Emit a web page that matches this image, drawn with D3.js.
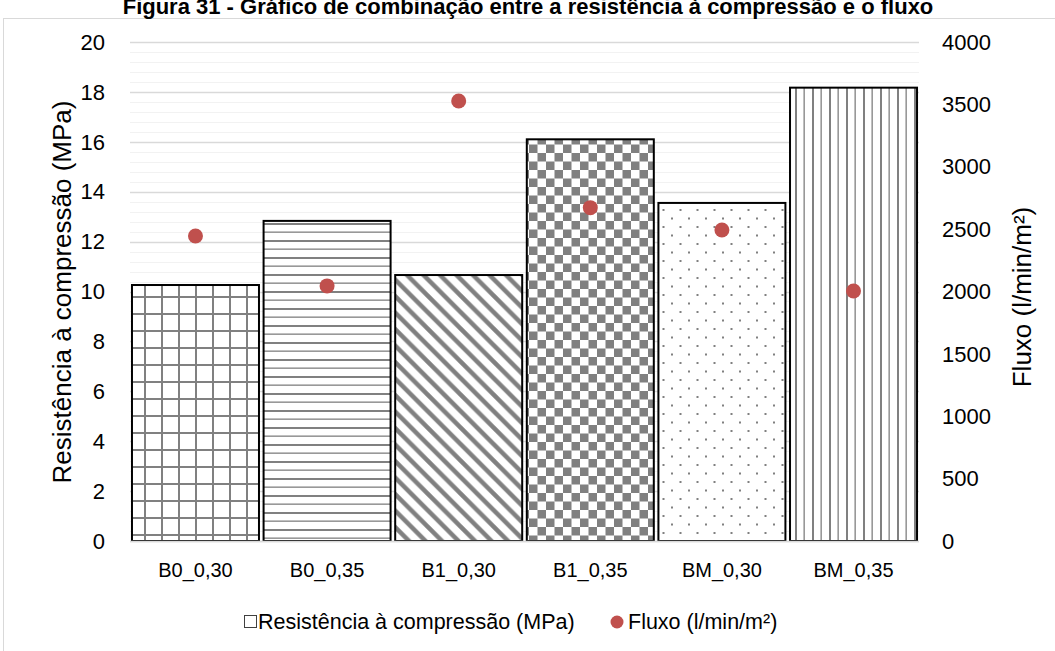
<!DOCTYPE html>
<html>
<head>
<meta charset="utf-8">
<script src="https://cdn.jsdelivr.net/npm/d3@7"></script>
<style>
  body { margin: 0; background: #fff; }
  svg { display: block; font-family: "Liberation Sans", Arial, sans-serif; }
</style>
</head>
<body>
<div id="chart"></div>
<script>
// data
var categories = ['B0_0,30', 'B0_0,35', 'B1_0,30', 'B1_0,35', 'BM_0,30', 'BM_0,35'];
var resistencia = [10.26, 12.83, 10.66, 16.1, 13.55, 18.17];
var fluxo = [2445, 2045, 3527, 2672, 2493, 2004];
var leftTicks = [0, 2, 4, 6, 8, 10, 12, 14, 16, 18, 20];
var rightTicks = [0, 500, 1000, 1500, 2000, 2500, 3000, 3500, 4000];
var patternIds = ['pGrid', 'pHoriz', 'pDiag', 'pCheck', 'pDots', 'pVert'];

var width = 1055, height = 651;
var margin = {left: 130, right: 136, top: 42, bottom: 110};
var gray = '#808080';

var svg = d3.select('#chart').append('svg')
    .attr('width', width)
    .attr('height', height);

var defs = svg.append('defs');

// grid pattern
var p = defs.append('pattern').attr('id', 'pGrid').attr('patternUnits', 'userSpaceOnUse')
    .attr('width', 17).attr('height', 17).attr('x', 130).attr('y', 0);
p.append('rect').attr('width', 17).attr('height', 17).attr('fill', '#fff');
p.append('rect').attr('x', 14).attr('width', 2).attr('height', 17).attr('fill', gray);
p.append('rect').attr('y', 7).attr('width', 17).attr('height', 2).attr('fill', gray);

// horizontal lines
p = defs.append('pattern').attr('id', 'pHoriz').attr('patternUnits', 'userSpaceOnUse')
    .attr('width', 17).attr('height', 17);
p.append('rect').attr('width', 17).attr('height', 17).attr('fill', '#fff');
p.append('rect').attr('y', 2).attr('width', 17).attr('height', 2).attr('fill', gray);
p.append('rect').attr('y', 10.5).attr('width', 17).attr('height', 1.3).attr('fill', gray);

// wide downward diagonal
p = defs.append('pattern').attr('id', 'pDiag').attr('patternUnits', 'userSpaceOnUse')
    .attr('width', 16.5).attr('height', 16.5);
p.append('rect').attr('width', 16.5).attr('height', 16.5).attr('fill', '#fff');
p.append('path').attr('d', 'M-4,-4L20.5,20.5M-4,12.5L4,20.5M12.5,-4L20.5,4')
    .attr('stroke', gray).attr('stroke-width', 4.5);

// checkerboard
p = defs.append('pattern').attr('id', 'pCheck').attr('patternUnits', 'userSpaceOnUse')
    .attr('width', 17).attr('height', 17).attr('x', 529).attr('y', 0);
p.append('rect').attr('width', 17).attr('height', 17).attr('fill', '#fff');
p.append('rect').attr('x', 8.5).attr('width', 8.5).attr('height', 8.5).attr('fill', gray);
p.append('rect').attr('y', 8.5).attr('width', 8.5).attr('height', 8.5).attr('fill', gray);

// dots
p = defs.append('pattern').attr('id', 'pDots').attr('patternUnits', 'userSpaceOnUse')
    .attr('width', 17).attr('height', 17).attr('x', 672).attr('y', 0);
p.append('rect').attr('width', 17).attr('height', 17).attr('fill', '#fff');
p.append('rect').attr('x', 7.5).attr('y', 5).attr('width', 2).attr('height', 2).attr('fill', gray);
p.append('rect').attr('x', 16).attr('y', 13.5).attr('width', 2).attr('height', 2).attr('fill', gray);
p.append('rect').attr('x', -1).attr('y', 13.5).attr('width', 2).attr('height', 2).attr('fill', gray);

// vertical lines
p = defs.append('pattern').attr('id', 'pVert').attr('patternUnits', 'userSpaceOnUse')
    .attr('width', 17).attr('height', 17).attr('x', 792).attr('y', 0);
p.append('rect').attr('width', 17).attr('height', 17).attr('fill', '#fff');
p.append('rect').attr('x', 3).attr('width', 2).attr('height', 17).attr('fill', gray);
p.append('rect').attr('x', 11.5).attr('width', 1.3).attr('height', 17).attr('fill', gray);

// outer frame
svg.append('rect')
    .attr('x', 3.5).attr('y', 18.5)
    .attr('width', 1060).attr('height', 700)
    .attr('fill', 'none').attr('stroke', '#d9d9d9').attr('stroke-width', 1);

// title (top is cut off in the source figure too)
svg.append('text')
    .attr('x', 528).attr('y', 14)
    .attr('text-anchor', 'middle')
    .style('font-size', '22px')
    .style('font-weight', 'bold')
    .attr('fill', '#000')
    .text('Figura 31 - Gráfico de combinação entre a resistência à compressão e o fluxo');

var x = d3.scaleBand().domain(categories)
    .range([margin.left, width - margin.right])
    .paddingInner(0.035).paddingOuter(0.015);
var y = d3.scaleLinear().domain([0, 20]).range([height - margin.bottom, margin.top]);
var y2 = d3.scaleLinear().domain([0, 4000]).range([height - margin.bottom, margin.top]);

var g = svg.append('g');

// minor gridlines
g.selectAll('.minor').data(d3.range(0, 20.01, 0.4)).enter().append('line')
    .attr('x1', margin.left).attr('x2', width - margin.right)
    .attr('y1', function(d) { return Math.round(y(d)) + 0.5; })
    .attr('y2', function(d) { return Math.round(y(d)) + 0.5; })
    .attr('stroke', '#f2f2f2').attr('stroke-width', 1);

// major gridlines
g.selectAll('.major').data(leftTicks).enter().append('line')
    .attr('x1', margin.left).attr('x2', width - margin.right)
    .attr('y1', function(d) { return Math.round(y(d)) + 0.5; })
    .attr('y2', function(d) { return Math.round(y(d)) + 0.5; })
    .attr('stroke', '#d9d9d9').attr('stroke-width', 1.3);

// bars
g.selectAll('.bar').data(resistencia).enter().append('rect')
    .attr('x', function(d, i) { return x(categories[i]); })
    .attr('y', function(d) { return y(d); })
    .attr('width', x.bandwidth())
    .attr('height', function(d) { return y(0) - y(d); })
    .attr('fill', function(d, i) { return 'url(#' + patternIds[i] + ')'; })
    .attr('stroke', '#000').attr('stroke-width', 2);

// baseline
g.append('line')
    .attr('x1', margin.left).attr('x2', width - margin.right)
    .attr('y1', y(0) + 0.5).attr('y2', y(0) + 0.5)
    .attr('stroke', '#d9d9d9').attr('stroke-width', 1.5);

// points
g.selectAll('.dot').data(fluxo).enter().append('circle')
    .attr('cx', function(d, i) { return x(categories[i]) + x.bandwidth() / 2; })
    .attr('cy', function(d) { return y2(d); })
    .attr('r', 7.5)
    .attr('fill', '#C0504D');

// left tick labels
svg.selectAll('.lt').data(leftTicks).enter().append('text')
    .attr('x', 105).attr('y', function(d) { return y(d); })
    .attr('dy', '0.35em')
    .attr('text-anchor', 'end')
    .style('font-size', '22px').attr('fill', '#000')
    .text(function(d) { return d; });

// right tick labels
svg.selectAll('.rt').data(rightTicks).enter().append('text')
    .attr('x', 942).attr('y', function(d) { return y2(d); })
    .attr('dy', '0.35em')
    .attr('text-anchor', 'start')
    .style('font-size', '22px').attr('fill', '#000')
    .text(function(d) { return d; });

// category labels
svg.selectAll('.cl').data(categories).enter().append('text')
    .attr('x', function(d) { return x(d) + x.bandwidth() / 2; })
    .attr('y', 577)
    .attr('text-anchor', 'middle')
    .style('font-size', '20px').attr('fill', '#000')
    .text(function(d) { return d; });

// axis titles
svg.append('text')
    .attr('transform', 'translate(71,292) rotate(-90)')
    .attr('text-anchor', 'middle')
    .style('font-size', '26px').attr('fill', '#000')
    .text('Resistência à compressão (MPa)');

svg.append('text')
    .attr('transform', 'translate(1031,297) rotate(-90)')
    .attr('text-anchor', 'middle')
    .style('font-size', '26px').attr('fill', '#000')
    .text('Fluxo (l/min/m²)');

// legend
var leg = svg.append('g');
leg.append('rect')
    .attr('x', 244.5).attr('y', 615.5).attr('width', 12).attr('height', 12)
    .attr('fill', '#fff').attr('stroke', '#404040').attr('stroke-width', 1);
leg.append('text')
    .attr('x', 258).attr('y', 629)
    .style('font-size', '21.5px').attr('fill', '#000')
    .text('Resistência à compressão (MPa)');
leg.append('circle')
    .attr('cx', 617).attr('cy', 622).attr('r', 6.5)
    .attr('fill', '#C0504D');
leg.append('text')
    .attr('x', 628).attr('y', 629)
    .style('font-size', '21.5px').attr('fill', '#000')
    .text('Fluxo (l/min/m²)');
</script>
</body>
</html>
